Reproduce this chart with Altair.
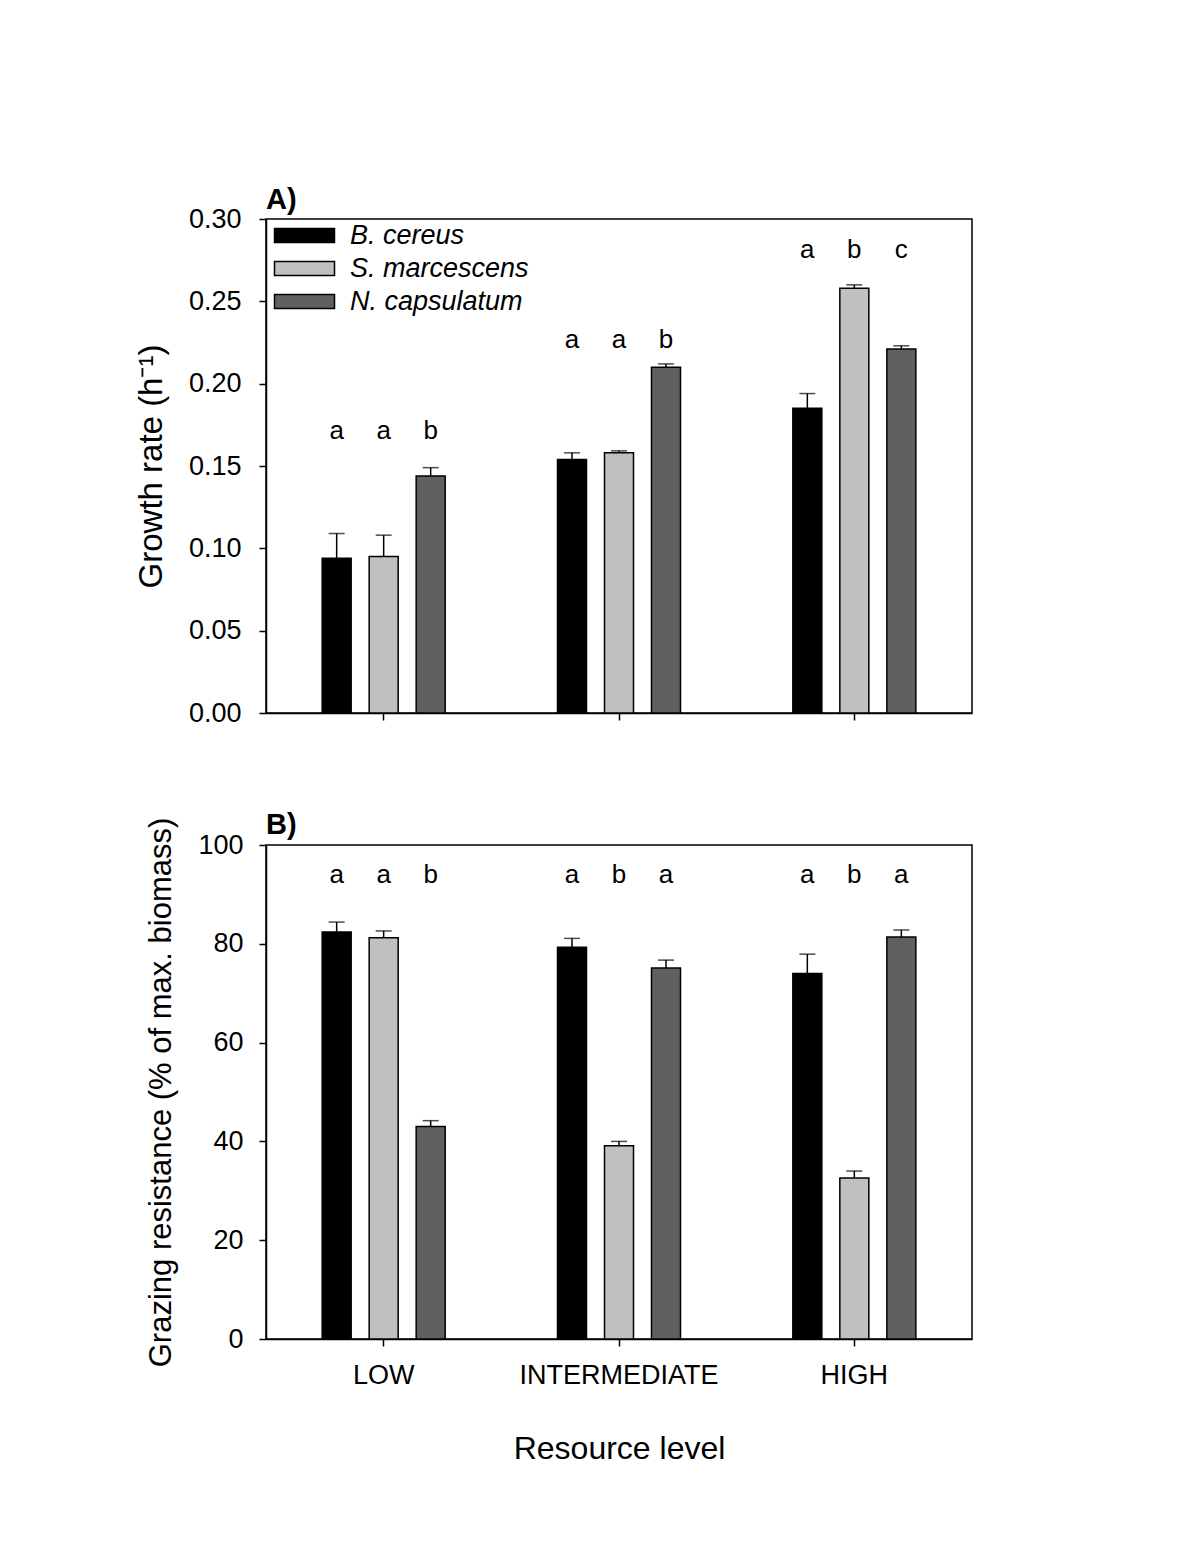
import altair as alt
import pandas as pd

categories = ["LOW", "INTERMEDIATE", "HIGH"]
species = ["B. cereus", "S. marcescens", "N. capsulatum"]
colors = ["#000000", "#c0c0c0", "#606060"]

growth_mean = {
    "B. cereus": [0.094, 0.154, 0.185],
    "S. marcescens": [0.095, 0.158, 0.258],
    "N. capsulatum": [0.144, 0.210, 0.221],
}
growth_se = {
    "B. cereus": [0.015, 0.004, 0.009],
    "S. marcescens": [0.013, 0.0012, 0.002],
    "N. capsulatum": [0.005, 0.002, 0.002],
}
growth_letters = {
    "B. cereus": ["a", "a", "a"],
    "S. marcescens": ["a", "a", "b"],
    "N. capsulatum": ["b", "b", "c"],
}
growth_letter_y = [0.171, 0.2265, 0.281]

graze_mean = {
    "B. cereus": [82.4, 79.3, 74.0],
    "S. marcescens": [81.2, 39.1, 32.6],
    "N. capsulatum": [43.0, 75.1, 81.4],
}
graze_se = {
    "B. cereus": [2.0, 1.8, 3.9],
    "S. marcescens": [1.4, 0.9, 1.4],
    "N. capsulatum": [1.2, 1.6, 1.4],
}
graze_letters = {
    "B. cereus": ["a", "a", "a"],
    "S. marcescens": ["a", "b", "b"],
    "N. capsulatum": ["b", "a", "a"],
}
graze_letter_y = [94.0, 94.0, 94.0]


def build(mean, se, letters, letter_y):
    rows = []
    for s in species:
        for i, c in enumerate(categories):
            rows.append({
                "level": c, "species": s, "value": mean[s][i],
                "upper": mean[s][i] + se[s][i],
                "letter": letters[s][i], "ly": letter_y[i],
            })
    return pd.DataFrame(rows)


FONT = "Liberation Sans"
W, H = 706, 494
BAND = W / 3.0
STEP, BAR = 47.0, 29.0
half = (3 * STEP - (STEP - BAR)) / 2.0

xscale = alt.Scale(domain=categories, paddingInner=0, paddingOuter=0)
offscale = alt.Scale(domain=species, paddingInner=(STEP - BAR) / STEP, paddingOuter=0,
                     range=[BAND / 2 - half, BAND / 2 + half])


def panel(df, ydomain, ytitle, ytitle_size, ylabel_pad, tickstep, fmt, label, title_offset,
          show_x, show_legend):
    x = alt.X("level:N", scale=xscale, sort=categories,
              axis=alt.Axis(labels=show_x, title="Resource level" if show_x else None,
                            labelAngle=0, labelPadding=16, titlePadding=45, labelLimit=0))
    xo = alt.XOffset("species:N", scale=offscale, sort=species)
    nt = int(round((ydomain[1] - ydomain[0]) / tickstep))
    y = alt.Y("value:Q", scale=alt.Scale(domain=ydomain, nice=False),
              axis=alt.Axis(title=ytitle, values=[round(ydomain[0] + k * tickstep, 4) for k in range(nt + 1)],
                            format=fmt, labelPadding=ylabel_pad, titlePadding=20,
                            titleFontSize=ytitle_size))
    if show_legend:
        leg = alt.Legend(title=None, orient="none", legendX=25, legendY=3,
                         symbolType="M-3,-0.7H3V0.7H-3Z", symbolSize=400,
                         symbolStrokeColor="black", symbolStrokeWidth=1.5,
                         symbolOpacity=1, labelFont=FONT, labelFontSize=27,
                         labelFontStyle="italic", labelOffset=32, rowPadding=5,
                         padding=0, labelColor="black", labelLimit=0)
    else:
        leg = None
    fill = alt.Fill("species:N", scale=alt.Scale(domain=species, range=colors),
                    sort=species, legend=leg)
    base = alt.Chart(df)
    bars = base.mark_bar(stroke="black", strokeWidth=1.5).encode(x=x, xOffset=xo, y=y, fill=fill)
    err = base.mark_rule(color="black", strokeWidth=1.5).encode(
        x=alt.X("level:N", scale=xscale, sort=categories), xOffset=xo,
        y=alt.Y("value:Q"), y2="upper:Q")
    cap = base.mark_tick(color="black", thickness=1.5, size=16, orient="horizontal").encode(
        x=alt.X("level:N", scale=xscale, sort=categories), xOffset=xo, y=alt.Y("upper:Q"))
    txt = base.mark_text(font=FONT, fontSize=26, baseline="middle", color="black").encode(
        x=alt.X("level:N", scale=xscale, sort=categories), xOffset=xo,
        y=alt.Y("ly:Q"), text="letter:N")
    return alt.layer(bars, err, cap, txt).properties(
        width=W, height=H,
        title=alt.TitleParams(label, anchor="start", frame="group", font=FONT,
                              fontSize=29, fontWeight="bold", offset=title_offset, color="black"),
    )


dfA = build(growth_mean, growth_se, growth_letters, growth_letter_y)
dfB = build(graze_mean, graze_se, graze_letters, graze_letter_y)

pA = panel(dfA, [0, 0.30], "Growth rate (h\u207b\u00b9)", 33, 18, 0.05, ".2f", "A)", -10,
           False, True)
pB = panel(dfB, [0, 100], "Grazing resistance (% of max. biomass)", 31, 16, 20, "d", "B)", -23,
           True, False)

chart = alt.vconcat(pA, pB, spacing=83).resolve_scale(fill="independent").resolve_legend(
    fill="independent"
).properties(
    padding={"left": 126, "top": 177, "right": 20, "bottom": 20}
).configure_view(
    stroke="black", strokeWidth=1.5
).configure_axis(
    labelFont=FONT, labelFontSize=27, labelColor="black",
    titleFont=FONT, titleFontSize=32, titleFontWeight="normal", titleColor="black",
    domainColor="black", domainWidth=1.5, tickColor="black", tickWidth=1.5,
    tickSize=7, grid=False,
)

chart.save("out.html", embed_options={"renderer": "svg", "actions": False})
